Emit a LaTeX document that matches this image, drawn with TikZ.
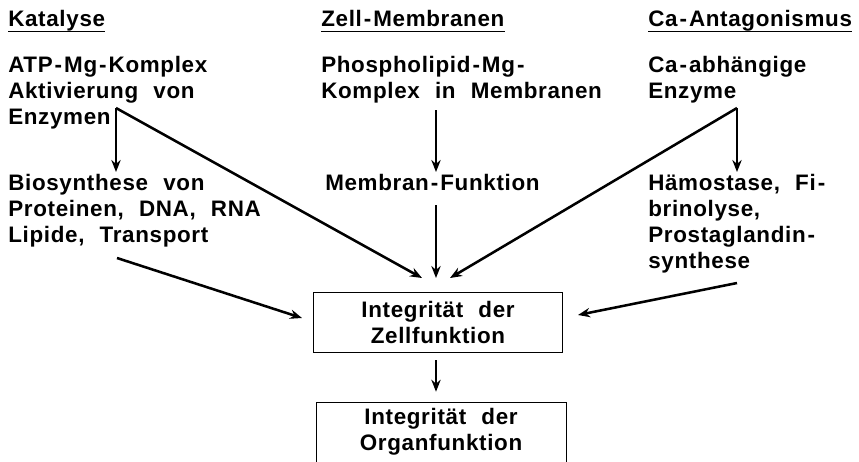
\documentclass[tikz,border=0pt]{standalone}
\usepackage{fontspec}
\setmainfont{Liberation Sans}[LetterSpace=3,WordSpace=2.2]
\usetikzlibrary{arrows.meta,calc}

\newcommand{\strich}{\kern1.5pt-\kern1.5pt}

\tikzset{
  txt/.style={inner sep=0pt, align=left, anchor=north west,
    font=\bfseries\fontsize{16.8}{19.5}\selectfont},
  kasten/.style={inner sep=0pt, align=center, minimum width=187pt,
    font=\bfseries\fontsize{16.8}{19.5}\selectfont},
  pfeil/.style={-{Stealth[length=9pt,width=7pt]}, line width=1.9pt},
  linie/.style={line width=1.2pt},
}

\begin{document}
\begin{tikzpicture}[x=0.75pt,y=0.75pt,yscale=-1,xscale=1]
\useasboundingbox (0,0) rectangle (859,461);

% Spaltenkoepfe
\node[txt] (kat) at (8, 8) {\strut Katalyse};
\node[txt] (zell) at (321, 8) {\strut Zell\strich Membranen};
\node[txt] (ca) at (648, 8) {\strut Ca\strich Antagonismus};
\draw[linie] ($(kat.base west)+(0,5)$) -- ($(kat.base east)+(0,5)$);
\draw[linie] ($(zell.base west)+(0,5)$) -- ($(zell.base east)+(0,5)$);
\draw[linie] ($(ca.base west)+(0,5)$) -- ($(ca.base east)+(0,5)$);

% erste Zeile
\node[txt] (atp) at (8, 54) {\strut ATP\strich Mg\strich Komplex\\Aktivierung von\\Enzymen};
\node[txt] (phos) at (321, 54) {\strut Phospholipid\strich Mg\strich\\Komplex in Membranen};
\node[txt] (caenz) at (648, 54) {\strut Ca\strich abhängige\\Enzyme};

% zweite Zeile
\node[txt] (bio) at (8, 172) {\strut Biosynthese von\\Proteinen, DNA, RNA\\Lipide, Transport};
\node[txt] (mem) at (325, 172) {\strut Membran\strich Funktion};
\node[txt] (haem) at (648, 172) {\strut Hämostase, Fi\strich\\brinolyse,\\Prostaglandin\strich\\synthese};

% Kaesten
\node[kasten, draw, line width=0.6pt, minimum height=45pt] (zf) at (438, 322) {Integrität der\\Zellfunktion};
\node[kasten, minimum height=44pt] (of) at (441, 432) {Integrität der\\Organfunktion};
\draw[line width=0.6pt] (of.south west) -- (of.north west) -- (of.north east) -- (of.south east);

% Punkte
\coordinate (katv) at (116, 108);
\coordinate (zellv) at (436, 110);
\coordinate (cav) at (737, 108);
\coordinate (memu) at (436, 205);
\coordinate (biou) at (117, 258);
\coordinate (haemu) at (737, 283);
\coordinate (ein1) at (422, 278);
\coordinate (ein2) at (436, 278);
\coordinate (ein3) at (450, 278);
\coordinate (ein4) at (302, 318);
\coordinate (ein5) at (578, 315);

\draw[pfeil] (katv) -- (katv |- bio.north);
\draw[pfeil] (katv) -- (ein1);
\draw[pfeil] (zellv) -- (zellv |- mem.north);
\draw[pfeil] (memu) -- (ein2);
\draw[pfeil] (cav) -- (cav |- haem.north);
\draw[pfeil] (cav) -- (ein3);
\draw[pfeil] (biou) -- (ein4);
\draw[pfeil] (haemu) -- (ein5);
\draw[pfeil, shorten <=6pt, shorten >=8pt] (zf.south -| ein2) -- (of.north -| ein2);

\end{tikzpicture}
\end{document}
